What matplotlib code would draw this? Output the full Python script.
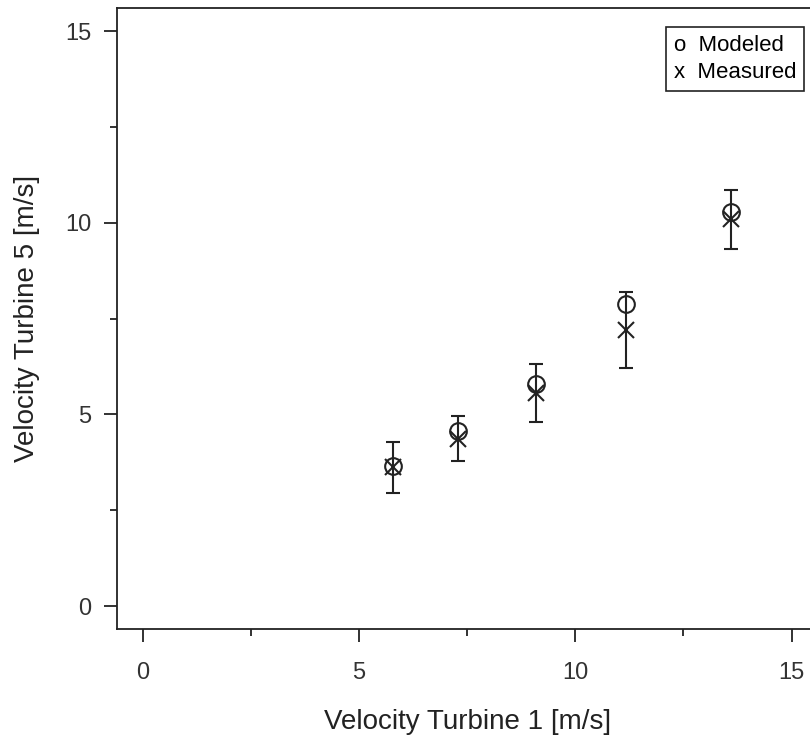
import matplotlib.pyplot as plt
from matplotlib.lines import Line2D

plt.rcParams['font.family'] = ['Liberation Sans', 'DejaVu Sans']

# velocities at turbine 1 and turbine 5
v1 = [5.79, 7.30, 9.09, 11.17, 13.60]
v5_modeled = [3.64, 4.57, 5.80, 7.87, 10.29]
v5_measured = [3.62, 4.37, 5.56, 7.20, 10.09]
v5_err = [0.66, 0.58, 0.75, 0.98, 0.77]

ink = '#222222'

fig = plt.figure(figsize=(8.1, 7.43), dpi=100)
ax = fig.add_axes([0.1442, 0.1534, 0.865, 0.8358])

ax.errorbar(v1, v5_measured, yerr=v5_err, fmt='x', color=ink, ms=12, mew=1.5,
            elinewidth=1.5, capsize=5, capthick=1.5)
ax.plot(v1, v5_modeled, 'o', color=ink, ms=12, mew=1.5, fillstyle='none')

ax.set_xlim(-0.6, 15.6)
ax.set_ylim(-0.6, 15.6)
ax.set_xticks([0, 5, 10, 15])
ax.set_yticks([0, 5, 10, 15])
ax.set_xticks([2.5, 7.5, 12.5], minor=True)
ax.set_yticks([2.5, 7.5, 12.5], minor=True)
ax.tick_params(which='major', length=9.5, width=1.3, color=ink, labelsize=17,
               labelcolor='#333333')
ax.tick_params(which='minor', length=5, width=1.3, color=ink)
ax.tick_params(axis='x', which='major', pad=14)
ax.tick_params(axis='y', which='major', pad=9)
for s in ax.spines.values():
    s.set_linewidth(1.3)
    s.set_color(ink)

ax.set_xlabel('Velocity Turbine 1 [m/s]', fontsize=20, color=ink, labelpad=18)
ax.set_ylabel('Velocity Turbine 5 [m/s]', fontsize=20, color=ink, labelpad=18)

handles = [Line2D([], [], linestyle='none'), Line2D([], [], linestyle='none')]
leg = ax.legend(handles, ['o  Modeled', 'x  Measured'], loc='upper right',
                bbox_to_anchor=(804 / 810, 1 - 27 / 743),
                bbox_transform=fig.transFigure, fontsize=16, handlelength=0,
                handletextpad=0, fancybox=False, framealpha=1,
                edgecolor=ink, borderpad=0.35, labelspacing=0.3,
                borderaxespad=0)
leg.get_frame().set_linewidth(1.2)

fig.savefig('out.png', dpi=100)
